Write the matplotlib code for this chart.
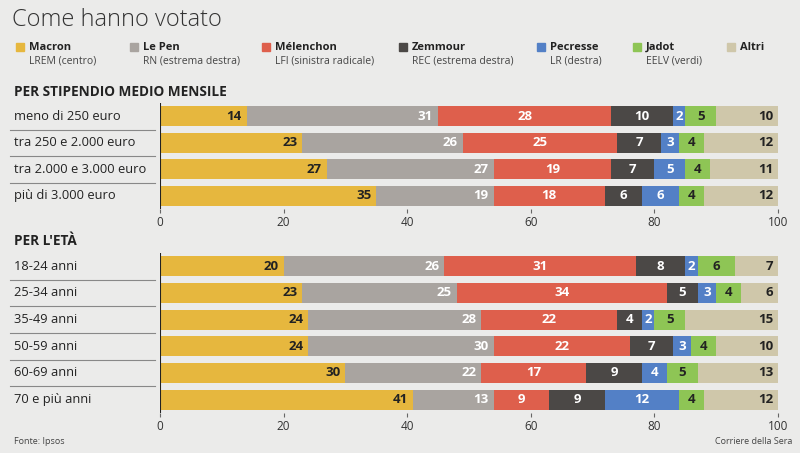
import numpy as np
import matplotlib
matplotlib.use("Agg")
import matplotlib.pyplot as plt

plt.rcParams['font.family'] = ['Open Sans', 'DejaVu Sans']

parties = ["Macron", "Le Pen", "Mélenchon", "Zemmour", "Pecresse", "Jadot", "Altri"]
subtitles = ["LREM (centro)", "RN (estrema destra)", "LFI (sinistra radicale)",
             "REC (estrema destra)", "LR (destra)", "EELV (verdi)", ""]
colors = ["#e6b73e", "#a9a4a0", "#de5f4c", "#4b4846", "#5380c6", "#8ec555", "#cfc7aa"]
text_colors = ["#222222", "white", "white", "white", "white", "#222222", "#222222"]
align = ["right", "right", "center", "center", "center", "center", "right"]

income_labels = ["meno di 250 euro", "tra 250 e 2.000 euro", "tra 2.000 e 3.000 euro", "più di 3.000 euro"]
income_values = np.array([
    [14, 31, 28, 10, 2, 5, 10],
    [23, 26, 25, 7, 3, 4, 12],
    [27, 27, 19, 7, 5, 4, 11],
    [35, 19, 18, 6, 6, 4, 12],
])

age_labels = ["18-24 anni", "25-34 anni", "35-49 anni", "50-59 anni", "60-69 anni", "70 e più anni"]
age_values = np.array([
    [20, 26, 31, 8, 2, 6, 7],
    [23, 25, 34, 5, 3, 4, 6],
    [24, 28, 22, 4, 2, 5, 15],
    [24, 30, 22, 7, 3, 4, 10],
    [30, 22, 17, 9, 4, 5, 13],
    [41, 13, 9, 9, 12, 4, 12],
])

W, H = 800, 453
bg = "#ebebea"
fig = plt.figure(figsize=(W / 100, H / 100), dpi=100, facecolor=bg)


def px(x, y):
    return x / W, 1 - y / H


def draw_section(top, bottom, labels, values):
    ax = fig.add_axes([160 / W, 1 - bottom / H, (778 - 160) / W, (bottom - top) / H])
    ax.set_facecolor(bg)
    n = len(labels)
    y = np.arange(n)
    left = np.zeros(n)
    for j in range(values.shape[1]):
        ax.barh(y, values[:, j], left=left, height=0.76, color=colors[j], edgecolor="none")
        for i in range(n):
            v = values[i, j]
            if align[j] == "right":
                xt = left[i] + v - 0.8
            else:
                xt = left[i] + v / 2
            ax.text(xt, y[i], str(v), ha=align[j], va="center", fontsize=9.5,
                    fontweight="bold", color=text_colors[j])
        left += values[:, j]
    ax.set_xlim(0, 100)
    ax.set_ylim(n - 0.5, -0.5)
    for s in ["top", "right", "left", "bottom"]:
        ax.spines[s].set_visible(False)
    ax.axvline(0, color="#222222", lw=1.5, ymin=0, ymax=1)
    ax.set_yticks([])
    ax.set_xticks([0, 20, 40, 60, 80, 100])
    ax.tick_params(axis="x", length=3, color="#666666", labelsize=8.5, labelcolor="#333333", pad=2)
    # row labels and separators
    row_h = (bottom - top) / n
    for i, lab in enumerate(labels):
        yc = top + row_h * (i + 0.5)
        fig.text(*px(14, yc), lab, ha="left", va="center", fontsize=9.3, color="#222222")
        if i < n - 1:
            ys = 1 - (top + row_h * (i + 1)) / H
            fig.add_artist(plt.Line2D([10 / W, 155 / W], [ys, ys], color="#888888", lw=0.8))
    return ax


fig.text(*px(12, 20), "Come hanno votato", ha="left", va="center", fontsize=17,
         color="#333333", fontweight="light")

leg_x = [16, 130, 262, 399, 537, 633, 727]
for x, name, sub, c in zip(leg_x, parties, subtitles, colors):
    fig.add_artist(plt.Rectangle((x / W, 1 - 51 / H), 8 / W, 8 / H, color=c, transform=fig.transFigure))
    fig.text(*px(x + 13, 47), name, ha="left", va="center", fontsize=8, fontweight="bold", color="#222222")
    if sub:
        fig.text(*px(x + 13, 61), sub, ha="left", va="center", fontsize=7.5, color="#444444")

fig.text(*px(14, 92), "PER STIPENDIO MEDIO MENSILE", ha="left", va="center", fontsize=9.8,
         fontweight="bold", color="#222222")
draw_section(103, 209, income_labels, income_values)

fig.text(*px(14, 241), "PER L'ETÀ", ha="left", va="center", fontsize=9.8,
         fontweight="bold", color="#222222")
draw_section(253, 413, age_labels, age_values)

fig.text(*px(14, 441), "Fonte: Ipsos", ha="left", va="center", fontsize=6.5, color="#444444")
fig.text(*px(792, 441), "Corriere della Sera", ha="right", va="center", fontsize=6.5, color="#444444")

fig.savefig("out.png", dpi=100, facecolor=bg)
